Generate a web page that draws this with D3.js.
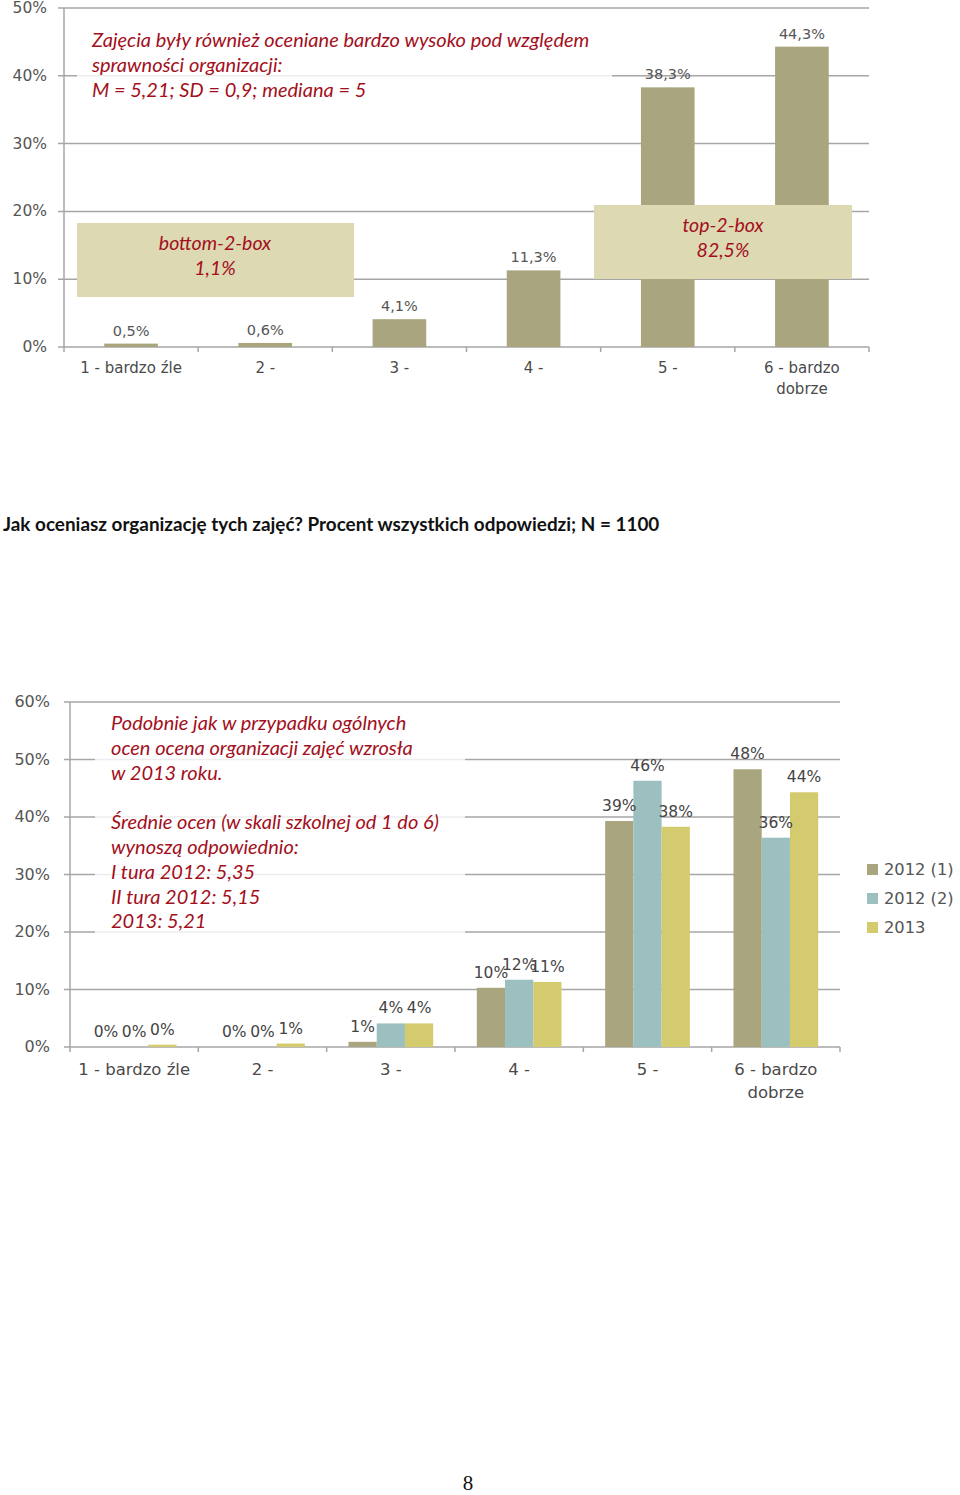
<!DOCTYPE html>
<html><head><meta charset="utf-8">
<script src="https://cdn.jsdelivr.net/npm/d3@7"></script>
<style>body{margin:0;background:#fff}svg{display:block}</style>
</head><body>
<script>
// ---------- DATA ----------
const topCategories = ["1 - bardzo źle", "2 -", "3 -", "4 -", "5 -", "6 - bardzo dobrze"];
const topValues = [0.5, 0.6, 4.1, 11.3, 38.3, 44.3];
const topTicks = [0, 10, 20, 30, 40, 50];

const bottomCategories = ["1 - bardzo źle", "2 -", "3 -", "4 -", "5 -", "6 - bardzo dobrze"];
const seriesNames = ["2012 (1)", "2012 (2)", "2013"];
const series2012a = [0, 0, 0.9, 10.3, 39.3, 48.3];
const series2012b = [0, 0, 4.1, 11.7, 46.3, 36.4];
const series2013 = [0.4, 0.6, 4.1, 11.3, 38.3, 44.3];
const bottomTicks = [0, 10, 20, 30, 40, 50, 60];

const topNote = ["Zajęcia były również oceniane bardzo wysoko pod względem", "sprawności organizacji:", "M = 5,21; SD = 0,9; mediana = 5"];
const bottomBoxText = ["bottom-2-box", "1,1%"];
const topBoxText = ["top-2-box", "82,5%"];
const title = "Jak oceniasz organizację tych zajęć? Procent wszystkich odpowiedzi; N = 1100";
const bottomNote = ["Podobnie jak w przypadku ogólnych", "ocen ocena organizacji zajęć wzrosła", "w 2013 roku.", "", "Średnie ocen (w skali szkolnej od 1 do 6)", "wynoszą odpowiednio:", "I tura 2012: 5,35", "II tura 2012: 5,15", "2013: 5,21"];
const pageNumber = "8";

// ---------- STYLE ----------
const colors = ["#a9a57e", "#9cbfbf", "#d3cb6d"];
const gridColor = "#a6a6a6";
const noteColor = "#a30f1c";
const labelFont = "DejaVu Sans";
const noteFont = "Lato";

const svg = d3.select("body").append("svg").attr("width", 960).attr("height", 1495);

function xLabel(g, text, x, y, size) {
  const parts = text === "6 - bardzo dobrze" ? ["6 - bardzo", "dobrze"] : [text];
  parts.forEach((p, i) => {
    g.append("text").attr("x", x).attr("y", y + i * (size + 6)).attr("text-anchor", "middle")
      .attr("font-family", labelFont).attr("font-size", size).attr("fill", "#4a4a4a").text(p);
  });
}

// ---------- TOP CHART ----------
{
  const L = 64, R = 869;
  const y = d3.scaleLinear().domain([0, 50]).range([347, 8]);
  const xb = d3.scaleBand().domain(topCategories).range([L, R]).paddingInner(0.6).paddingOuter(0.3);
  const xs = d3.scaleBand().domain(topCategories).range([L, R]);
  const g = svg.append("g");

  g.selectAll(".grid").data(topTicks.filter(t => t > 0)).enter().append("line")
    .attr("x1", L - 6).attr("x2", R).attr("y1", d => y(d)).attr("y2", d => y(d))
    .attr("stroke", gridColor).attr("stroke-width", 1.5);
  g.append("line").attr("x1", L - 6).attr("x2", R).attr("y1", y(0)).attr("y2", y(0)).attr("stroke", gridColor).attr("stroke-width", 1.5);
  g.append("line").attr("x1", L).attr("x2", L).attr("y1", y(50)).attr("y2", y(0) + 5).attr("stroke", gridColor).attr("stroke-width", 1.5);
  g.selectAll(".xt").data(topCategories).enter().append("line")
    .attr("x1", d => xs(d) + xs.bandwidth()).attr("x2", d => xs(d) + xs.bandwidth())
    .attr("y1", y(0)).attr("y2", y(0) + 5).attr("stroke", gridColor).attr("stroke-width", 1.5);
  g.selectAll(".yl").data(topTicks).enter().append("text")
    .attr("x", 47).attr("y", d => y(d) + 5).attr("text-anchor", "end")
    .attr("font-family", labelFont).attr("font-size", 15.5).attr("fill", "#555").text(d => d + "%");

  g.append("rect").attr("x", 77).attr("y", 22).attr("width", 535).attr("height", 86).attr("fill", "#fff").attr("opacity", 0.8);

  g.selectAll(".bar").data(topValues).enter().append("rect")
    .attr("x", (d, i) => xb(topCategories[i])).attr("width", xb.bandwidth())
    .attr("y", d => y(d)).attr("height", d => y(0) - y(d)).attr("fill", colors[0]);
  g.selectAll(".bl").data(topValues).enter().append("text")
    .attr("x", (d, i) => xb(topCategories[i]) + xb.bandwidth() / 2).attr("y", d => y(d) - 8)
    .attr("text-anchor", "middle").attr("font-family", labelFont).attr("font-size", 14.5).attr("fill", "#555")
    .text(d => d.toFixed(1).replace(".", ",") + "%");

  topCategories.forEach(c => xLabel(g, c, xs(c) + xs.bandwidth() / 2, 373, 15));

  g.append("rect").attr("x", 77).attr("y", 223).attr("width", 277).attr("height", 74).attr("fill", "#ddd9b3");
  bottomBoxText.forEach((t, i) => g.append("text").attr("x", 215).attr("y", 250 + i * 25).attr("text-anchor", "middle")
    .attr("font-family", noteFont).attr("font-style", "italic").attr("font-size", 19.5).attr("fill", noteColor).text(t));
  g.append("rect").attr("x", 594).attr("y", 205).attr("width", 258).attr("height", 74).attr("fill", "#ddd9b3");
  topBoxText.forEach((t, i) => g.append("text").attr("x", 723).attr("y", 232 + i * 25).attr("text-anchor", "middle")
    .attr("font-family", noteFont).attr("font-style", "italic").attr("font-size", 19.5).attr("fill", noteColor).text(t));

  topNote.forEach((t, i) => g.append("text").attr("x", 92).attr("y", 47 + i * 25)
    .attr("font-family", noteFont).attr("font-style", "italic").attr("font-size", 20).attr("fill", noteColor).text(t));
}

// ---------- TITLE ----------
svg.append("text").attr("x", 3).attr("y", 531).attr("font-family", noteFont).attr("font-weight", "bold")
  .attr("font-size", 18.9).attr("fill", "#111").text(title);

// ---------- BOTTOM CHART ----------
{
  const L = 70, R = 840;
  const y = d3.scaleLinear().domain([0, 60]).range([1047, 702]);
  const x0 = d3.scaleBand().domain(bottomCategories).range([L, R]).paddingInner(0.34).paddingOuter(0.17);
  const xs = d3.scaleBand().domain(bottomCategories).range([L, R]);
  const x1 = d3.scaleBand().domain(seriesNames).range([0, x0.bandwidth()]);
  const data = [series2012a, series2012b, series2013];
  const g = svg.append("g");

  g.selectAll(".grid").data(bottomTicks).enter().append("line")
    .attr("x1", L - 6).attr("x2", R).attr("y1", d => y(d)).attr("y2", d => y(d))
    .attr("stroke", gridColor).attr("stroke-width", 1.5);
  g.append("line").attr("x1", L).attr("x2", L).attr("y1", y(60)).attr("y2", y(0) + 5).attr("stroke", gridColor).attr("stroke-width", 1.5);
  g.selectAll(".xt").data(bottomCategories).enter().append("line")
    .attr("x1", d => xs(d) + xs.bandwidth()).attr("x2", d => xs(d) + xs.bandwidth())
    .attr("y1", y(0)).attr("y2", y(0) + 5).attr("stroke", gridColor).attr("stroke-width", 1.5);
  g.selectAll(".yl").data(bottomTicks).enter().append("text")
    .attr("x", 50).attr("y", d => y(d) + 5).attr("text-anchor", "end")
    .attr("font-family", labelFont).attr("font-size", 16).attr("fill", "#555").text(d => d + "%");

  g.append("rect").attr("x", 95).attr("y", 708).attr("width", 370).attr("height", 228).attr("fill", "#fff").attr("opacity", 0.8);

  seriesNames.forEach((s, si) => {
    g.selectAll(".b" + si).data(data[si]).enter().append("rect")
      .attr("x", (d, i) => x0(bottomCategories[i]) + x1(s)).attr("width", x1.bandwidth())
      .attr("y", d => y(d)).attr("height", d => y(0) - y(d)).attr("fill", colors[si]);
  });
  seriesNames.forEach((s, si) => {
    g.selectAll(".l" + si).data(data[si]).enter().append("text")
      .attr("x", (d, i) => x0(bottomCategories[i]) + x1(s) + x1.bandwidth() / 2).attr("y", d => y(d) - 10)
      .attr("text-anchor", "middle").attr("font-family", labelFont).attr("font-size", 15.5).attr("fill", "#444")
      .text(d => Math.round(d) + "%");
  });

  bottomCategories.forEach(c => xLabel(g, c, xs(c) + xs.bandwidth() / 2, 1075, 16.5));

  bottomNote.forEach((t, i) => g.append("text").attr("x", 111).attr("y", 730 + i * 24.8)
    .attr("font-family", noteFont).attr("font-style", "italic").attr("font-size", 20).attr("fill", noteColor).text(t));

  seriesNames.forEach((s, i) => {
    const ly = 864 + i * 29;
    g.append("rect").attr("x", 867).attr("y", ly).attr("width", 11).attr("height", 11).attr("fill", colors[i]);
    g.append("text").attr("x", 884).attr("y", ly + 11).attr("font-family", labelFont).attr("font-size", 16.3)
      .attr("fill", "#555").text(s);
  });
}

svg.append("text").attr("x", 468).attr("y", 1490).attr("text-anchor", "middle").attr("font-family", "Liberation Serif")
  .attr("font-size", 21).attr("fill", "#111").text(pageNumber);
</script>
</body></html>
